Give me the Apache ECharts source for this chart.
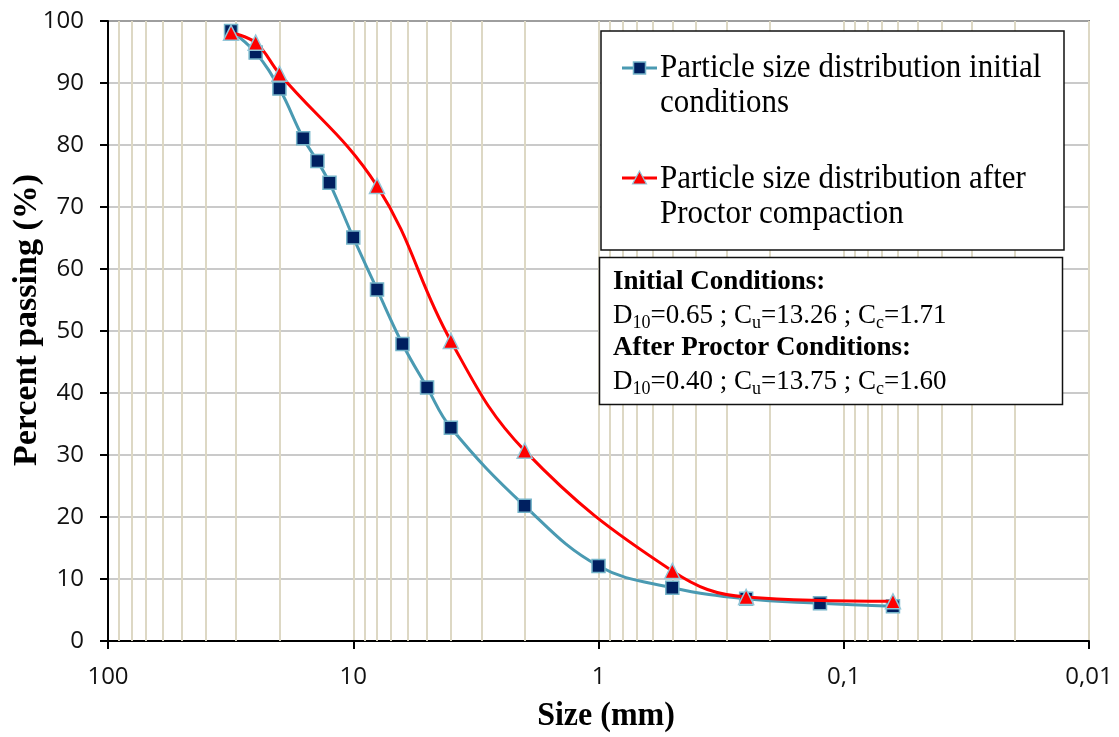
<!DOCTYPE html>
<html>
<head>
<meta charset="utf-8">
<script src="https://cdn.jsdelivr.net/npm/echarts@6/dist/echarts.min.js"></script>
<style>
  html, body { margin: 0; padding: 0; background: #ffffff; }
  #chart { width: 1119px; height: 737px; }
</style>
</head>
<body>
<div id="chart"></div>
<script>
// Sieve openings (mm) and percent passing for each grading curve
const sizesInitial   = [31.5, 25, 20, 16, 14, 12.5, 10, 8, 6.3, 5, 4, 2, 1, 0.5, 0.25, 0.125, 0.063];
const passingInitial = [98.4, 94.9, 89.1, 81.1, 77.4, 73.9, 65.1, 56.7, 47.9, 40.9, 34.4, 21.8, 12.1, 8.6, 6.8, 6.1, 5.6];
const sizesProctor   = [31.5, 25, 20, 8, 4, 2, 0.5, 0.25, 0.063];
const passingProctor = [98.1, 96.5, 91.5, 73.4, 48.4, 30.7, 11.3, 7.1, 6.4];

// Legend labels (line-broken as displayed)
const legendLabels = [
  'Particle size distribution initial\nconditions',
  'Particle size distribution after\nProctor compaction'
];
const seriesNames = legendLabels.map(s => s.replace('\n', ' '));

// Grading coefficients: [D10, Cu, Cc]
const statTitles = ['Initial Conditions:', 'After Proctor Conditions:'];
const statsInitial = ['0.65', '13.26', '1.71'];
const statsProctor = ['0.40', '13.75', '1.60'];

// Axis texts
const xAxisTitle = 'Size (mm)';
const yAxisTitle = 'Percent passing (%)';
const minorMultipliers = [2, 3, 4, 5, 6, 7, 8, 9];
const decades = [0.01, 0.1, 1, 10];

const serif = '"Liberation Serif", "Times New Roman", serif';
const sans = '"Open Sans", "Liberation Sans", sans-serif';

// Intermediate log grid lines (2..9 within every decade)
const minorLineData = [];
decades.forEach(d => minorMultipliers.forEach(m => minorLineData.push({ xAxis: +(d * m).toPrecision(6) })));

function statLine(v) {
  return '{r|D}{s|10}{r|=' + v[0] + ' ; C}{s|u}{r|=' + v[1] + ' ; C}{s|c}{r|=' + v[2] + '}';
}
const statsText = '{b|' + statTitles[0] + '}\n' + statLine(statsInitial) + '\n{b|' + statTitles[1] + '}\n' + statLine(statsProctor);

const colInitLine = '#4a9ab2';
const colInitFill = '#002060';
const colInitBorder = '#74b4c9';
const colProcLine = '#ff0000';
const colProcBorder = '#93c6d8';

const TOP = 200; // drawing order for the overlay boxes and titles
const TEXT_STRETCH = 1.08; // slightly tall lettering

const chart = echarts.init(document.getElementById('chart'), null, { renderer: 'canvas' });

const option = {
  animation: false,
  backgroundColor: '#ffffff',
  grid: {
    left: 108, right: 30, top: 21, bottom: 96,
    show: true, borderColor: '#1a1a1a', borderWidth: 1.5, backgroundColor: 'transparent'
  },
  xAxis: {
    type: 'log',
    logBase: 10,
    min: 0.01,
    max: 100,
    inverse: true,
    axisLine: { show: true, onZero: false, lineStyle: { color: '#000', width: 2 } },
    axisTick: { show: true, length: 8, lineStyle: { color: '#000', width: 2 } },
    axisLabel: {
      fontFamily: sans, fontSize: 24, color: '#111', margin: 24,
      formatter: v => String(+v.toPrecision(6)).replace('.', ',')
    },
    splitLine: { show: true, lineStyle: { color: '#ddd8c4', width: 2 } }
  },
  yAxis: {
    type: 'value',
    min: 0, max: 100, interval: 10,
    axisLine: { show: true, lineStyle: { color: '#000', width: 2 } },
    axisTick: { show: true, length: 8, inside: false, lineStyle: { color: '#000', width: 2 } },
    axisLabel: { fontFamily: sans, fontSize: 24, color: '#111', margin: 24 },
    splitLine: { show: true, lineStyle: { color: '#b8b8b8', width: 1.5 } }
  },
  series: [
    {
      name: seriesNames[0],
      type: 'line',
      data: sizesInitial.map((s, i) => [s, passingInitial[i]]),
      smooth: 0.4,
      z: 3,
      symbol: 'rect',
      symbolSize: 13,
      lineStyle: { color: colInitLine, width: 3 },
      itemStyle: { color: colInitFill, borderColor: colInitBorder, borderWidth: 1.5 },
      markLine: {
        silent: true,
        z: 1,
        symbol: ['none', 'none'],
        label: { show: false },
        emphasis: { disabled: true },
        lineStyle: { color: '#ddd8c4', width: 2, type: 'solid' },
        data: minorLineData
      }
    },
    {
      name: seriesNames[1],
      type: 'line',
      data: sizesProctor.map((s, i) => [s, passingProctor[i]]),
      smooth: 0.4,
      z: 4,
      symbol: 'triangle',
      symbolSize: 15,
      lineStyle: { color: colProcLine, width: 3 },
      itemStyle: { color: colProcLine, borderColor: colProcBorder, borderWidth: 1.5 }
    }
  ],
  graphic: [
    // legend box
    { type: 'rect', z: TOP, shape: { x: 601, y: 31, width: 463, height: 219 },
      style: { fill: '#ffffff', stroke: '#111', lineWidth: 1.5 } },
    { type: 'line', z: TOP + 1, shape: { x1: 622, y1: 68, x2: 657, y2: 68 },
      style: { stroke: colInitLine, lineWidth: 3 } },
    { type: 'rect', z: TOP + 2, shape: { x: 633.5, y: 62, width: 12, height: 12 },
      style: { fill: colInitFill, stroke: colInitBorder, lineWidth: 1.5 } },
    { type: 'text', z: TOP + 1, x: 660, y: 51, scaleY: TEXT_STRETCH,
      style: { text: legendLabels[0], fontFamily: serif, fontSize: 31, lineHeight: 32.5,
               fill: '#000', textVerticalAlign: 'top', textAlign: 'left' } },
    { type: 'line', z: TOP + 1, shape: { x1: 622, y1: 178, x2: 657, y2: 178 },
      style: { stroke: colProcLine, lineWidth: 3 } },
    { type: 'polygon', z: TOP + 2, shape: { points: [[639.5, 171], [646.5, 184], [632.5, 184]] },
      style: { fill: colProcLine, stroke: colProcBorder, lineWidth: 1.2 } },
    { type: 'text', z: TOP + 1, x: 660, y: 161.5, scaleY: TEXT_STRETCH,
      style: { text: legendLabels[1], fontFamily: serif, fontSize: 31, lineHeight: 32.5,
               fill: '#000', textVerticalAlign: 'top', textAlign: 'left' } },
    // coefficients box
    { type: 'rect', z: TOP, shape: { x: 599.5, y: 257.5, width: 463, height: 147 },
      style: { fill: '#ffffff', stroke: '#111', lineWidth: 1.5 } },
    { type: 'text', z: TOP + 1, x: 613, y: 266,
      style: {
        text: statsText, fontFamily: serif, fontSize: 27, lineHeight: 33, fill: '#000',
        textVerticalAlign: 'top', textAlign: 'left',
        rich: {
          b: { fontFamily: serif, fontSize: 27, fontWeight: 'bold', lineHeight: 33, fill: '#000' },
          r: { fontFamily: serif, fontSize: 27, lineHeight: 33, fill: '#000' },
          s: { fontFamily: serif, fontSize: 18, lineHeight: 14, verticalAlign: 'bottom', fill: '#000' }
        }
      } },
    // axis titles
    { type: 'text', z: TOP, x: 27, y: 320, rotation: Math.PI / 2,
      style: { text: yAxisTitle, fontFamily: serif, fontSize: 34, fontWeight: 'bold', fill: '#000',
               textAlign: 'center', textVerticalAlign: 'middle' } },
    { type: 'text', z: TOP, x: 606, y: 716, scaleY: TEXT_STRETCH,
      style: { text: xAxisTitle, fontFamily: serif, fontSize: 32, fontWeight: 'bold', fill: '#000',
               textAlign: 'center', textVerticalAlign: 'middle' } }
  ]
};

chart.setOption(option);
</script>
</body>
</html>
